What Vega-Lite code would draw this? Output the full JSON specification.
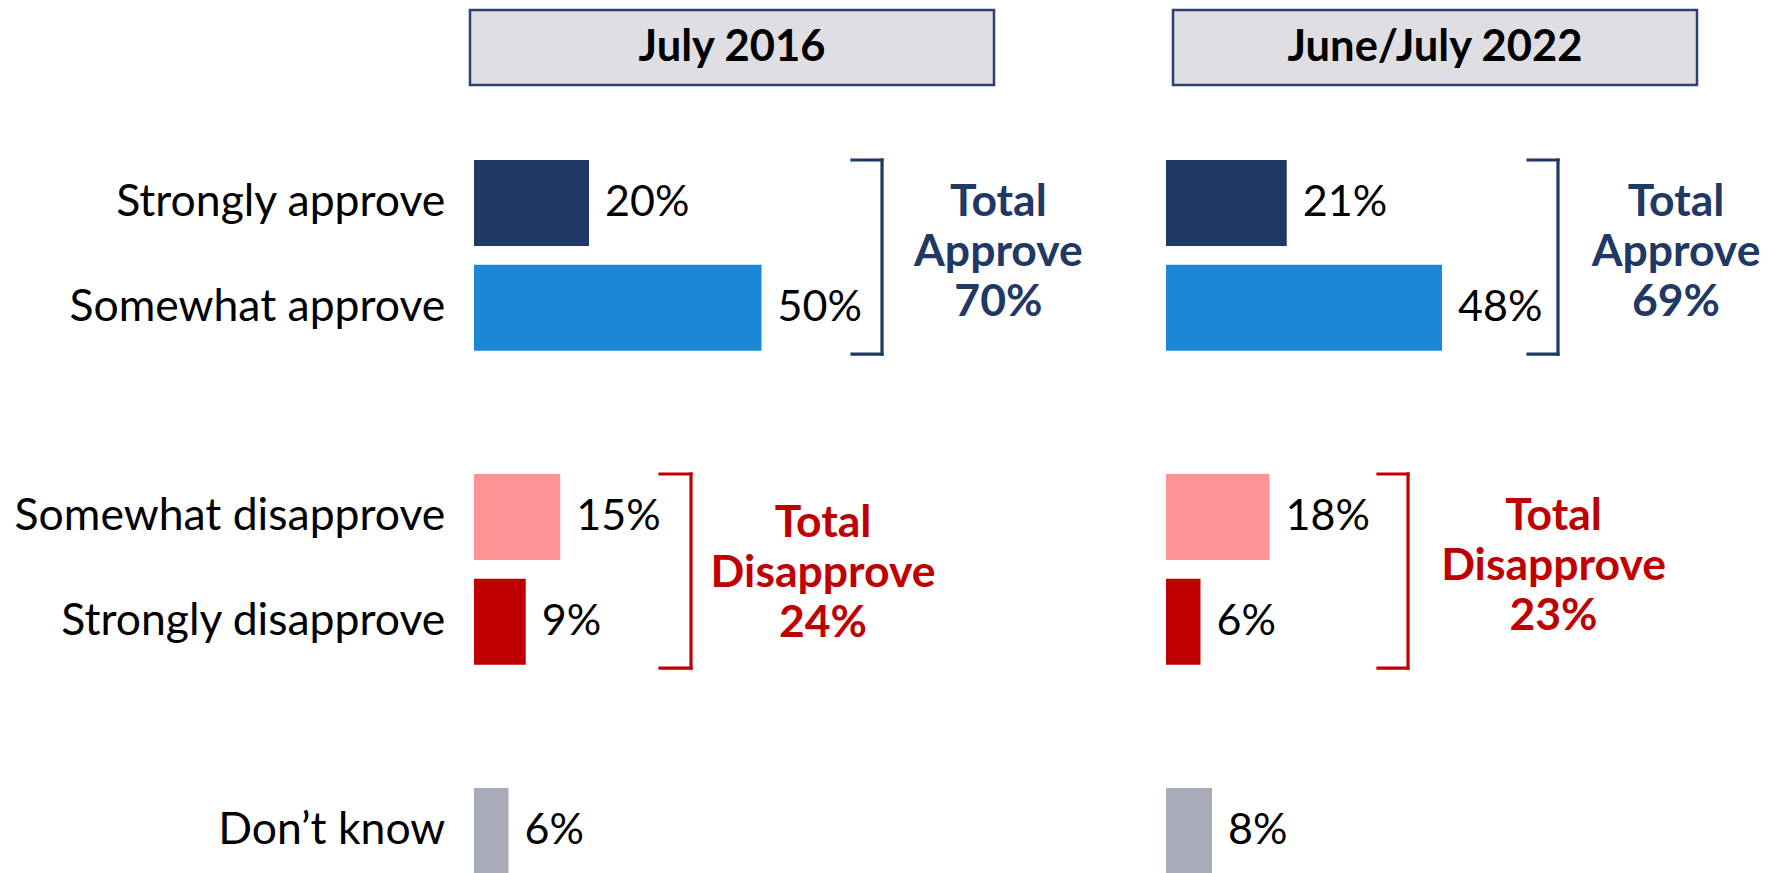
{
  "$schema": "https://vega.github.io/schema/vega-lite/v6.json",
  "background": "white",
  "padding": {"left": 0, "top": 8, "right": 0, "bottom": 0},
  "config": {"view": {"stroke": null}, "font": "Lato"},
  "datasets": {
    "bars": [
      {"period": "July 2016", "category": "Strongly approve", "value": 0.20},
      {"period": "July 2016", "category": "Somewhat approve", "value": 0.50},
      {"period": "July 2016", "category": "Somewhat disapprove", "value": 0.15},
      {"period": "July 2016", "category": "Strongly disapprove", "value": 0.09},
      {"period": "July 2016", "category": "Don’t know", "value": 0.06},
      {"period": "June/July 2022", "category": "Strongly approve", "value": 0.21},
      {"period": "June/July 2022", "category": "Somewhat approve", "value": 0.48},
      {"period": "June/July 2022", "category": "Somewhat disapprove", "value": 0.18},
      {"period": "June/July 2022", "category": "Strongly disapprove", "value": 0.06},
      {"period": "June/July 2022", "category": "Don’t know", "value": 0.08}
    ],
    "totals": [
      {"period": "July 2016", "group": "Approve", "top": "Strongly approve", "bottom": "Somewhat approve", "total": 0.70, "label": "Total\nApprove\n70%"},
      {"period": "July 2016", "group": "Disapprove", "top": "Somewhat disapprove", "bottom": "Strongly disapprove", "total": 0.24, "label": "Total\nDisapprove\n24%"},
      {"period": "June/July 2022", "group": "Approve", "top": "Strongly approve", "bottom": "Somewhat approve", "total": 0.69, "label": "Total\nApprove\n69%"},
      {"period": "June/July 2022", "group": "Disapprove", "top": "Somewhat disapprove", "bottom": "Strongly disapprove", "total": 0.23, "label": "Total\nDisapprove\n23%"}
    ],
    "headers": [
      {"period": "July 2016"},
      {"period": "June/July 2022"}
    ]
  },
  "columns": 2,
  "spacing": {"row": 20, "column": 66},
  "bounds": "flush",
  "concat": [
    {
      "width": 1100, "height": 75,
      "data": {"name": "headers"},
      "transform": [{"filter": "datum.period === 'July 2016'"}],
      "layer": [
        {
          "mark": {"type": "rect", "fill": "#DEDEE3", "stroke": "#2F4170", "strokeWidth": 2.5},
          "encoding": {
            "x": {"datum": -0.00696, "type": "quantitative", "scale": {"domain": [-0.824348, 1.088696], "nice": false, "zero": false}, "axis": null},
            "x2": {"datum": 0.90435},
            "y": {"field": "period", "type": "nominal", "axis": null, "scale": {"paddingInner": 0, "paddingOuter": 0}}
          }
        },
        {
          "mark": {"type": "text", "fontSize": 43.5, "fontWeight": "bold", "color": "black", "align": "center", "baseline": "middle"},
          "encoding": {
            "x": {"datum": 0.4487, "type": "quantitative"},
            "y": {"field": "period", "type": "nominal"},
            "text": {"field": "period"}
          }
        }
      ]
    },
    {
      "width": 611, "height": 75,
      "data": {"name": "headers"},
      "transform": [{"filter": "datum.period === 'June/July 2022'"}],
      "layer": [
        {
          "mark": {"type": "rect", "fill": "#DEDEE3", "stroke": "#2F4170", "strokeWidth": 2.5},
          "encoding": {
            "x": {"datum": 0.01217, "type": "quantitative", "scale": {"domain": [0, 1.062609], "nice": false, "zero": false}, "axis": null},
            "x2": {"datum": 0.92348},
            "y": {"field": "period", "type": "nominal", "axis": null, "scale": {"paddingInner": 0, "paddingOuter": 0}}
          }
        },
        {
          "mark": {"type": "text", "fontSize": 43.5, "fontWeight": "bold", "color": "black", "align": "center", "baseline": "middle"},
          "encoding": {
            "x": {"datum": 0.46783, "type": "quantitative"},
            "y": {"field": "period", "type": "nominal"},
            "text": {"field": "period"}
          }
        }
      ]
    },
    {
      "width": 1100, "height": 769,
      "layer": [
        {
          "data": {"name": "bars"},
          "transform": [{"filter": "datum.period === 'July 2016'"}],
          "mark": {"type": "bar"},
          "encoding": {
            "x": {"field": "value", "type": "quantitative", "scale": {"domain": [-0.824348, 1.088696], "nice": false, "zero": false}, "axis": null},
            "y": {"field": "category", "type": "nominal", "axis": null, "scale": {"domain": ["Strongly approve", "Somewhat approve", " ", "Somewhat disapprove", "Strongly disapprove", "  ", "Don’t know"], "paddingInner": 0.178, "paddingOuter": 0.2628, "align": 1}},
            "color": {"field": "category", "type": "nominal", "legend": null, "scale": {"domain": ["Strongly approve", "Somewhat approve", "Somewhat disapprove", "Strongly disapprove", "Don’t know"], "range": ["#1F3864", "#1A88D6", "#FF9494", "#C00000", "#A9ABB8"]}}
          }
        },
        {
          "data": {"name": "bars"},
          "transform": [{"filter": "datum.period === 'July 2016'"}],
          "mark": {"type": "text", "fontSize": 43, "color": "black", "align": "left", "baseline": "middle", "dx": 16},
          "encoding": {
            "x": {"field": "value", "type": "quantitative"},
            "y": {"field": "category", "type": "nominal"},
            "text": {"field": "value", "type": "quantitative", "format": ".0%"}
          }
        },
        {
          "data": {"name": "bars"},
          "transform": [{"filter": "datum.period === 'July 2016'"}],
          "mark": {"type": "text", "fontSize": 44.5, "color": "black", "align": "right", "baseline": "middle"},
          "encoding": {
            "x": {"datum": -0.05, "type": "quantitative"},
            "y": {"field": "category", "type": "nominal"},
            "text": {"field": "category"}
          }
        },
        {
          "data": {"name": "totals"},
          "transform": [{"filter": "datum.period === 'July 2016' && datum.group === 'Approve'"}],
          "mark": {"type": "rule", "color": "#1F3864", "strokeWidth": 3.2, "strokeCap": "square"},
          "encoding": {
            "x": {"datum": 0.7096, "type": "quantitative"},
            "y": {"field": "top", "type": "nominal", "bandPosition": 0},
            "y2": {"field": "bottom", "bandPosition": 1.04}
          }
        },
        {
          "data": {"name": "totals"},
          "transform": [{"filter": "datum.period === 'July 2016' && datum.group === 'Approve'"}],
          "mark": {"type": "rule", "color": "#1F3864", "strokeWidth": 3.2, "strokeCap": "square"},
          "encoding": {
            "x": {"datum": 0.6574, "type": "quantitative"},
            "x2": {"datum": 0.7096},
            "y": {"field": "top", "type": "nominal", "bandPosition": 0}
          }
        },
        {
          "data": {"name": "totals"},
          "transform": [{"filter": "datum.period === 'July 2016' && datum.group === 'Approve'"}],
          "mark": {"type": "rule", "color": "#1F3864", "strokeWidth": 3.2, "strokeCap": "square"},
          "encoding": {
            "x": {"datum": 0.6574, "type": "quantitative"},
            "x2": {"datum": 0.7096},
            "y": {"field": "bottom", "type": "nominal", "bandPosition": 1.04}
          }
        },
        {
          "data": {"name": "totals"},
          "transform": [{"filter": "datum.period === 'July 2016' && datum.group === 'Disapprove'"}],
          "mark": {"type": "rule", "color": "#C00000", "strokeWidth": 3.2, "strokeCap": "square"},
          "encoding": {
            "x": {"datum": 0.3774, "type": "quantitative"},
            "y": {"field": "top", "type": "nominal", "bandPosition": 0},
            "y2": {"field": "bottom", "bandPosition": 1.04}
          }
        },
        {
          "data": {"name": "totals"},
          "transform": [{"filter": "datum.period === 'July 2016' && datum.group === 'Disapprove'"}],
          "mark": {"type": "rule", "color": "#C00000", "strokeWidth": 3.2, "strokeCap": "square"},
          "encoding": {
            "x": {"datum": 0.3235, "type": "quantitative"},
            "x2": {"datum": 0.3774},
            "y": {"field": "top", "type": "nominal", "bandPosition": 0}
          }
        },
        {
          "data": {"name": "totals"},
          "transform": [{"filter": "datum.period === 'July 2016' && datum.group === 'Disapprove'"}],
          "mark": {"type": "rule", "color": "#C00000", "strokeWidth": 3.2, "strokeCap": "square"},
          "encoding": {
            "x": {"datum": 0.3235, "type": "quantitative"},
            "x2": {"datum": 0.3774},
            "y": {"field": "bottom", "type": "nominal", "bandPosition": 1.04}
          }
        },
        {
          "data": {"name": "totals"},
          "transform": [{"filter": "datum.period === 'July 2016' && datum.group === 'Approve'"}],
          "mark": {"type": "text", "fontSize": 44.5, "fontWeight": "bold", "color": "#1F3864", "align": "center", "baseline": "middle", "lineBreak": "\n", "lineHeight": 50},
          "encoding": {
            "x": {"datum": 0.912, "type": "quantitative"},
            "y": {"field": "top", "type": "nominal"},
            "text": {"field": "label"}
          }
        },
        {
          "data": {"name": "totals"},
          "transform": [{"filter": "datum.period === 'July 2016' && datum.group === 'Disapprove'"}],
          "mark": {"type": "text", "fontSize": 44.5, "fontWeight": "bold", "color": "#C00000", "align": "center", "baseline": "middle", "lineBreak": "\n", "lineHeight": 50},
          "encoding": {
            "x": {"datum": 0.607, "type": "quantitative"},
            "y": {"field": "top", "type": "nominal", "bandPosition": 0.58},
            "text": {"field": "label"}
          }
        }
      ]
    },
    {
      "width": 611, "height": 769,
      "layer": [
        {
          "data": {"name": "bars"},
          "transform": [{"filter": "datum.period === 'June/July 2022'"}],
          "mark": {"type": "bar"},
          "encoding": {
            "x": {"field": "value", "type": "quantitative", "scale": {"domain": [0, 1.062609], "nice": false, "zero": false}, "axis": null},
            "y": {"field": "category", "type": "nominal", "axis": null, "scale": {"domain": ["Strongly approve", "Somewhat approve", " ", "Somewhat disapprove", "Strongly disapprove", "  ", "Don’t know"], "paddingInner": 0.178, "paddingOuter": 0.2628, "align": 1}},
            "color": {"field": "category", "type": "nominal", "legend": null, "scale": {"domain": ["Strongly approve", "Somewhat approve", "Somewhat disapprove", "Strongly disapprove", "Don’t know"], "range": ["#1F3864", "#1A88D6", "#FF9494", "#C00000", "#A9ABB8"]}}
          }
        },
        {
          "data": {"name": "bars"},
          "transform": [{"filter": "datum.period === 'June/July 2022'"}],
          "mark": {"type": "text", "fontSize": 43, "color": "black", "align": "left", "baseline": "middle", "dx": 16},
          "encoding": {
            "x": {"field": "value", "type": "quantitative"},
            "y": {"field": "category", "type": "nominal"},
            "text": {"field": "value", "type": "quantitative", "format": ".0%"}
          }
        },
        {
          "data": {"name": "totals"},
          "transform": [{"filter": "datum.period === 'June/July 2022' && datum.group === 'Approve'"}],
          "mark": {"type": "rule", "color": "#1F3864", "strokeWidth": 3.2, "strokeCap": "square"},
          "encoding": {
            "x": {"datum": 0.6817, "type": "quantitative"},
            "y": {"field": "top", "type": "nominal", "bandPosition": 0},
            "y2": {"field": "bottom", "bandPosition": 1.04}
          }
        },
        {
          "data": {"name": "totals"},
          "transform": [{"filter": "datum.period === 'June/July 2022' && datum.group === 'Approve'"}],
          "mark": {"type": "rule", "color": "#1F3864", "strokeWidth": 3.2, "strokeCap": "square"},
          "encoding": {
            "x": {"datum": 0.6296, "type": "quantitative"},
            "x2": {"datum": 0.6817},
            "y": {"field": "top", "type": "nominal", "bandPosition": 0}
          }
        },
        {
          "data": {"name": "totals"},
          "transform": [{"filter": "datum.period === 'June/July 2022' && datum.group === 'Approve'"}],
          "mark": {"type": "rule", "color": "#1F3864", "strokeWidth": 3.2, "strokeCap": "square"},
          "encoding": {
            "x": {"datum": 0.6296, "type": "quantitative"},
            "x2": {"datum": 0.6817},
            "y": {"field": "bottom", "type": "nominal", "bandPosition": 1.04}
          }
        },
        {
          "data": {"name": "totals"},
          "transform": [{"filter": "datum.period === 'June/July 2022' && datum.group === 'Disapprove'"}],
          "mark": {"type": "rule", "color": "#C00000", "strokeWidth": 3.2, "strokeCap": "square"},
          "encoding": {
            "x": {"datum": 0.4209, "type": "quantitative"},
            "y": {"field": "top", "type": "nominal", "bandPosition": 0},
            "y2": {"field": "bottom", "bandPosition": 1.04}
          }
        },
        {
          "data": {"name": "totals"},
          "transform": [{"filter": "datum.period === 'June/July 2022' && datum.group === 'Disapprove'"}],
          "mark": {"type": "rule", "color": "#C00000", "strokeWidth": 3.2, "strokeCap": "square"},
          "encoding": {
            "x": {"datum": 0.3687, "type": "quantitative"},
            "x2": {"datum": 0.4209},
            "y": {"field": "top", "type": "nominal", "bandPosition": 0}
          }
        },
        {
          "data": {"name": "totals"},
          "transform": [{"filter": "datum.period === 'June/July 2022' && datum.group === 'Disapprove'"}],
          "mark": {"type": "rule", "color": "#C00000", "strokeWidth": 3.2, "strokeCap": "square"},
          "encoding": {
            "x": {"datum": 0.3687, "type": "quantitative"},
            "x2": {"datum": 0.4209},
            "y": {"field": "bottom", "type": "nominal", "bandPosition": 1.04}
          }
        },
        {
          "data": {"name": "totals"},
          "transform": [{"filter": "datum.period === 'June/July 2022' && datum.group === 'Approve'"}],
          "mark": {"type": "text", "fontSize": 44.5, "fontWeight": "bold", "color": "#1F3864", "align": "center", "baseline": "middle", "lineBreak": "\n", "lineHeight": 50},
          "encoding": {
            "x": {"datum": 0.887, "type": "quantitative"},
            "y": {"field": "top", "type": "nominal"},
            "text": {"field": "label"}
          }
        },
        {
          "data": {"name": "totals"},
          "transform": [{"filter": "datum.period === 'June/July 2022' && datum.group === 'Disapprove'"}],
          "mark": {"type": "text", "fontSize": 44.5, "fontWeight": "bold", "color": "#C00000", "align": "center", "baseline": "middle", "lineBreak": "\n", "lineHeight": 50},
          "encoding": {
            "x": {"datum": 0.674, "type": "quantitative"},
            "y": {"field": "top", "type": "nominal"},
            "text": {"field": "label"}
          }
        }
      ]
    }
  ]
}
